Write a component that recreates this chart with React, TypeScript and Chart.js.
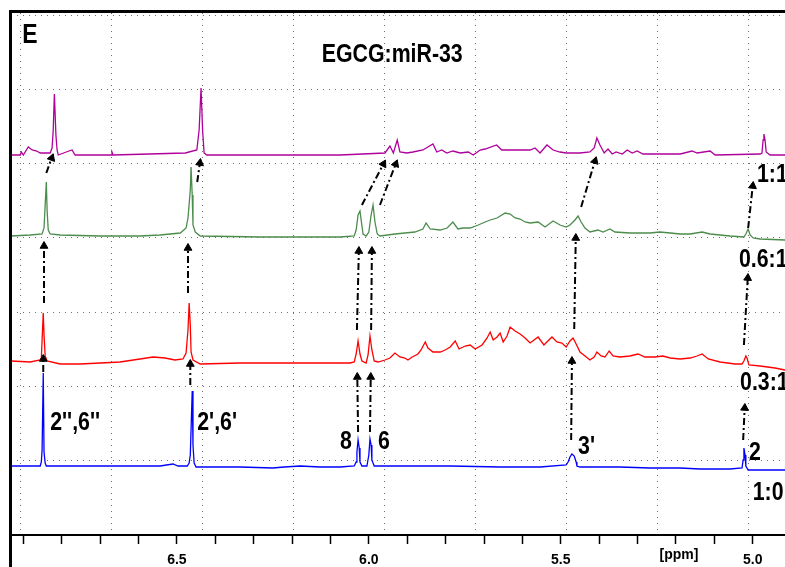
import React, { useEffect, useRef } from "react";
import { Chart, registerables } from "chart.js";
Chart.register(...registerables);

// Spectra: [chemical shift (ppm), intensity above the spectrum's own baseline]
const trace_1_0: [number, number][] = [
  [6.932, 0], [6.856, 0], [6.853, 4], [6.851, 16], [6.848, 93], [6.846, 14], [6.843, 3], [6.84, 0],
  [6.544, 0], [6.51, 2], [6.497, 0], [6.473, 0], [6.468, 3], [6.465, 11], [6.46, 75], [6.458, 21],
  [6.455, 3], [6.45, -1], [6.335, -1], [6.25, -2], [6.22, -1], [6.179, 0], [6.127, -1], [6.075, -1],
  [6.038, 0], [6.033, 4], [6.031, 14], [6.028, 26], [6.025, 18], [6.023, 4], [6.018, 0], [6.012, 0],
  [6.005, 0], [6.0, 11], [5.997, 27], [5.994, 21], [5.992, 6], [5.986, 0], [5.919, 0], [5.788, 0],
  [5.658, -1], [5.554, -1], [5.486, 1], [5.481, 4], [5.476, 9], [5.471, 12], [5.465, 10], [5.46, 4],
  [5.458, 0], [5.45, -1], [5.346, -1], [5.268, -2], [5.189, -2], [5.137, -3], [5.059, -3], [5.028, -2],
  [5.025, 6], [5.023, 18], [5.02, 11], [5.018, 0], [5.012, -4], [4.981, -4], [4.916, -4],
];

const trace_03_1: [number, number][] = [
  [6.932, 1], [6.882, 0], [6.856, 2], [6.853, 4], [6.851, 22], [6.848, 49], [6.846, 27], [6.843, 6],
  [6.838, 1], [6.804, -2], [6.752, -2], [6.7, -1], [6.648, 0], [6.596, 3], [6.562, 5], [6.531, 4],
  [6.505, 2], [6.484, 3], [6.476, 9], [6.471, 32], [6.468, 59], [6.465, 37], [6.463, 10], [6.458, 2],
  [6.439, -2], [6.335, -1], [6.231, -1], [6.127, -1], [6.049, -1], [6.038, 0], [6.033, 8], [6.028, 21],
  [6.023, 8], [6.018, 1], [6.007, -1], [6.002, 7], [5.997, 26], [5.992, 12], [5.986, 1], [5.976, 0],
  [5.958, 2], [5.945, 4], [5.932, 9], [5.919, 5], [5.906, 4], [5.898, 2], [5.887, 5], [5.872, 8],
  [5.864, 12], [5.853, 20], [5.846, 14], [5.833, 10], [5.814, 10], [5.801, 12], [5.788, 15], [5.775, 21],
  [5.765, 13], [5.749, 16], [5.736, 17], [5.723, 13], [5.705, 17], [5.692, 24], [5.684, 30], [5.676, 22],
  [5.666, 25], [5.658, 29], [5.65, 20], [5.64, 26], [5.632, 35], [5.619, 31], [5.606, 28], [5.593, 24],
  [5.58, 19], [5.559, 25], [5.544, 17], [5.523, 25], [5.51, 20], [5.497, 19], [5.486, 15], [5.476, 21],
  [5.468, 24], [5.46, 18], [5.45, 10], [5.437, 6], [5.424, 2], [5.413, 5], [5.406, 10], [5.395, 6],
  [5.385, 5], [5.374, 11], [5.364, 6], [5.346, 5], [5.32, 6], [5.299, 8], [5.281, 5], [5.255, 5],
  [5.234, 6], [5.215, 4], [5.189, 3], [5.163, 4], [5.145, 6], [5.132, 8], [5.116, 3], [5.085, 0],
  [5.046, -2], [5.028, -2], [5.023, 1], [5.018, 6], [5.015, 4], [5.01, -3], [4.981, -4], [4.942, -6],
  [4.916, -8],
];

const trace_06_1: [number, number][] = [
  [6.932, -1], [6.882, 0], [6.851, 1], [6.846, 7], [6.843, 30], [6.84, 53], [6.838, 25], [6.835, 5],
  [6.83, 1], [6.804, 0], [6.7, -1], [6.596, -1], [6.544, 0], [6.491, 2], [6.476, 7], [6.471, 17],
  [6.465, 45], [6.463, 68], [6.46, 40], [6.458, 10], [6.452, 3], [6.439, -1], [6.283, -2], [6.075, -2],
  [6.038, -1], [6.033, 5], [6.028, 20], [6.023, 24], [6.02, 15], [6.015, 1], [6.007, -1], [6.0, 3],
  [5.994, 20], [5.989, 30], [5.984, 13], [5.978, 1], [5.971, -1], [5.932, 1], [5.906, 2], [5.88, 3],
  [5.859, 6], [5.851, 12], [5.84, 6], [5.814, 5], [5.796, 7], [5.781, 13], [5.768, 6], [5.755, 7],
  [5.736, 7], [5.715, 10], [5.697, 13], [5.684, 15], [5.666, 17], [5.645, 22], [5.632, 21], [5.619, 17],
  [5.606, 16], [5.593, 13], [5.58, 12], [5.559, 13], [5.541, 8], [5.52, 14], [5.502, 10], [5.486, 8],
  [5.476, 10], [5.463, 15], [5.455, 19], [5.447, 13], [5.437, 7], [5.424, 3], [5.403, 5], [5.39, 3],
  [5.372, 6], [5.359, 3], [5.32, 2], [5.268, 2], [5.242, 3], [5.215, 2], [5.189, 1], [5.163, 1],
  [5.132, 3], [5.111, 1], [5.059, -1], [5.023, -2], [5.018, 1], [5.012, 6], [5.007, 0], [4.999, -3],
  [4.981, -4], [4.916, -5],
];

const trace_1_1: [number, number][] = [
  [6.932, 0], [6.908, 0], [6.905, 3], [6.9, 0], [6.887, 8], [6.877, 5], [6.865, 4], [6.856, 2],
  [6.83, 2], [6.825, 7], [6.822, 25], [6.819, 61], [6.815, 20], [6.812, 5], [6.809, 0], [6.781, 4],
  [6.773, 5], [6.765, 0], [6.671, 0], [6.669, 3], [6.666, 0], [6.478, 2], [6.448, 5], [6.442, 25],
  [6.437, 67], [6.433, 25], [6.429, 2], [6.422, 0], [6.283, 0], [6.075, 0], [5.958, 2], [5.945, 9],
  [5.936, 2], [5.926, 15], [5.919, 3], [5.901, 2], [5.885, 3], [5.859, 5], [5.833, 11], [5.823, 3],
  [5.81, 5], [5.797, 2], [5.781, 4], [5.762, 2], [5.741, 3], [5.728, 0], [5.71, 5], [5.697, 6],
  [5.667, 10], [5.654, 5], [5.624, 5], [5.606, 5], [5.58, 5], [5.567, 7], [5.554, 2], [5.536, 10],
  [5.52, 5], [5.502, 3], [5.486, 2], [5.45, 2], [5.424, 3], [5.413, 7], [5.406, 17], [5.398, 10],
  [5.387, 2], [5.377, 6], [5.366, 1], [5.356, 3], [5.34, 1], [5.327, 5], [5.314, 2], [5.301, 4],
  [5.286, 1], [5.189, 1], [5.158, 4], [5.145, 2], [5.111, 4], [5.098, 0], [4.981, 1], [4.976, 2],
  [4.973, 15], [4.971, 21], [4.968, 15], [4.965, 3], [4.955, 0], [4.916, 0],
];

const seriesNames = ["1:0", "0.3:1", "0.6:1", "1:1"];
const seriesColors = ["#0000ff", "#ff0000", "#4c8c4c", "#b0009c"];
const stackOffsets = [69, 173, 300, 380];

// Arrows linking a signal in one spectrum to the same signal in the next
const arrowFromPpm = [6.848, 6.465, 6.846, 6.471, 6.84, 6.447, 6.028, 5.997, 6.031, 5.994, 6.018, 5.971, 5.473, 5.465, 5.447, 5.025, 5.023, 5.012];
const arrowFromY = [163, 150, 232, 242, 362, 353, 103, 103, 205, 205, 330, 330, 95, 206, 328, 95, 190, 307];
const arrowToPpm = [6.848, 6.465, 6.846, 6.471, 6.826, 6.44, 6.03, 5.995, 6.026, 5.992, 5.962, 5.93, 5.471, 5.461, 5.411, 5.021, 5.013, 5.0];
const arrowToY = [176, 171, 289, 287, 377, 372, 158, 158, 284, 284, 371, 371, 174, 297, 374, 127, 257, 349];

// Peak assignments and ratio labels
const labelTexts = ["2'',6''", "2',6'", "8", "6", "3'", "2", "1:0", "0.3:1", "0.6:1", "1:1"];
const labelPpm = [6.83, 6.447, 6.075, 5.976, 5.455, 5.01, 5.0, 5.033, 5.036, 4.989];
const labelY = [112, 112, 93, 93, 88, 82, 42, 152, 275, 360];

const panelLetter = "E";
const titleText = "EGCG:miR-33";
const axisUnit = "[ppm]";

const textPlugin = {
  id: "nmrText",
  afterDatasetsDraw(chart: any) {
    const { ctx, scales } = chart;
    const xs = scales.x;
    const ys = scales.y;
    const narrow = (text: string, px: number, py: number, size: number, align: CanvasTextAlign) => {
      ctx.save();
      ctx.font = `bold ${size}px "Liberation Sans", Arial, sans-serif`;
      ctx.fillStyle = "#000";
      ctx.textBaseline = "middle";
      ctx.textAlign = align;
      ctx.translate(px, py);
      ctx.scale(0.82, 1);
      ctx.fillText(text, 0, 0);
      ctx.restore();
    };
    narrow(panelLetter, xs.getPixelForValue(6.903), ys.getPixelForValue(500), 28, "left");
    narrow(titleText, xs.getPixelForValue(5.939), ys.getPixelForValue(480), 26, "center");
    labelTexts.forEach((t, i) => {
      narrow(t, xs.getPixelForValue(labelPpm[i]), ys.getPixelForValue(labelY[i]), 26, "left");
    });
    ctx.save();
    ctx.font = 'bold 14px "Liberation Sans", Arial, sans-serif';
    ctx.fillStyle = "#000";
    ctx.textBaseline = "middle";
    ctx.textAlign = "center";
    ctx.fillText(axisUnit, xs.getPixelForValue(5.192), ys.getPixelForValue(-20));
    ctx.restore();
  },
};

export default function App() {
  const canvasRef = useRef<HTMLCanvasElement | null>(null);

  useEffect(() => {
    const canvas = canvasRef.current;
    if (!canvas) return;
    const traces = [trace_1_0, trace_03_1, trace_06_1, trace_1_1];
    const datasets: any[] = traces.map((tr, i) => ({
      label: seriesNames[i],
      data: tr.map(([p, v]) => ({ x: p, y: v + stackOffsets[i] })),
      borderColor: seriesColors[i],
      borderWidth: 1.3,
      pointRadius: 0,
      tension: 0,
      fill: false,
      order: 2,
      xAxisID: "x",
      yAxisID: "y",
    }));
    arrowFromPpm.forEach((_, i) => {
      datasets.push({
        label: "arrow" + i,
        data: [
          { x: arrowFromPpm[i], y: arrowFromY[i] },
          { x: arrowToPpm[i], y: arrowToY[i] },
        ],
        borderColor: "#000",
        borderWidth: 2,
        borderDash: [7, 3, 2, 3],
        pointRadius: [0, 4.5],
        pointStyle: "triangle",
        pointBackgroundColor: "#000",
        pointBorderColor: "#000",
        pointBorderWidth: 1,
        pointRotation: (c: any) => {
          const s = c.chart.scales;
          const d = c.dataset.data;
          if (!s || !s.x || !s.y) return 0;
          const x0 = s.x.getPixelForValue(d[0].x);
          const y0 = s.y.getPixelForValue(d[0].y);
          const x1 = s.x.getPixelForValue(d[1].x);
          const y1 = s.y.getPixelForValue(d[1].y);
          return (Math.atan2(x1 - x0, y0 - y1) * 180) / Math.PI;
        },
        tension: 0,
        fill: false,
        order: 1,
        xAxisID: "x",
        yAxisID: "y",
      });
    });

    const gridStyle = { color: "#6f6f6f", lineWidth: 1, drawTicks: false, drawOnChartArea: true };
    const chart = new Chart(canvas, {
      type: "line",
      data: { datasets },
      plugins: [textPlugin],
      options: {
        animation: false,
        responsive: false,
        events: [],
        layout: { autoPadding: false, padding: { left: 11, top: 13, right: 0, bottom: 0 } },
        plugins: { legend: { display: false }, tooltip: { enabled: false } },
        scales: {
          x: {
            type: "linear",
            position: "bottom",
            reverse: true,
            min: 4.916,
            max: 6.932,
            afterFit: (s: any) => {
              s.height = 32;
              s.paddingLeft = 0;
              s.paddingRight = 0;
            },
            ticks: {
              stepSize: 0.1,
              includeBounds: false,
              autoSkip: false,
              maxRotation: 0,
              padding: 8,
              color: "#000",
              font: { family: '"Liberation Sans", Arial, sans-serif', size: 14, weight: "bold" },
              callback: (v: any) => {
                const n = Number(v);
                return Math.abs(n * 2 - Math.round(n * 2)) < 1e-6 ? n.toFixed(1) : "";
              },
            },
            grid: { drawOnChartArea: false, drawTicks: true, tickLength: 9, tickColor: "#000", tickWidth: 1.5 },
            border: { display: true, color: "#000", width: 2 },
          },
          xg: {
            type: "linear",
            position: "top",
            min: -0.11,
            max: 8.407,
            afterFit: (s: any) => {
              s.height = 0;
              s.paddingLeft = 0;
              s.paddingRight = 0;
            },
            ticks: { display: false, stepSize: 1, includeBounds: false },
            grid: gridStyle,
            border: { display: false, dash: [1, 5] },
          },
          y: {
            type: "linear",
            display: false,
            min: 0,
            max: 522,
          },
          yg: {
            type: "linear",
            position: "left",
            min: 0,
            max: 7.03,
            afterFit: (s: any) => {
              s.width = 0;
              s.paddingTop = 0;
              s.paddingBottom = 0;
            },
            ticks: { display: false, stepSize: 1, includeBounds: false },
            grid: gridStyle,
            border: { display: false, dash: [1, 5] },
          },
        },
      } as any,
    });
    return () => chart.destroy();
  }, []);

  return (
    <div
      style={{
        position: "fixed",
        left: 0,
        top: 0,
        width: 785,
        height: 567,
        overflow: "hidden",
        background: "#fff",
      }}
    >
      <canvas ref={canvasRef} width={785} height={567} style={{ position: "absolute", left: 0, top: 0 }} />
      <div
        style={{
          position: "absolute",
          left: 9,
          top: 10,
          width: 900,
          height: 700,
          borderLeft: "3px solid #000",
          borderTop: "3px solid #000",
          pointerEvents: "none",
        }}
      />
    </div>
  );
}
